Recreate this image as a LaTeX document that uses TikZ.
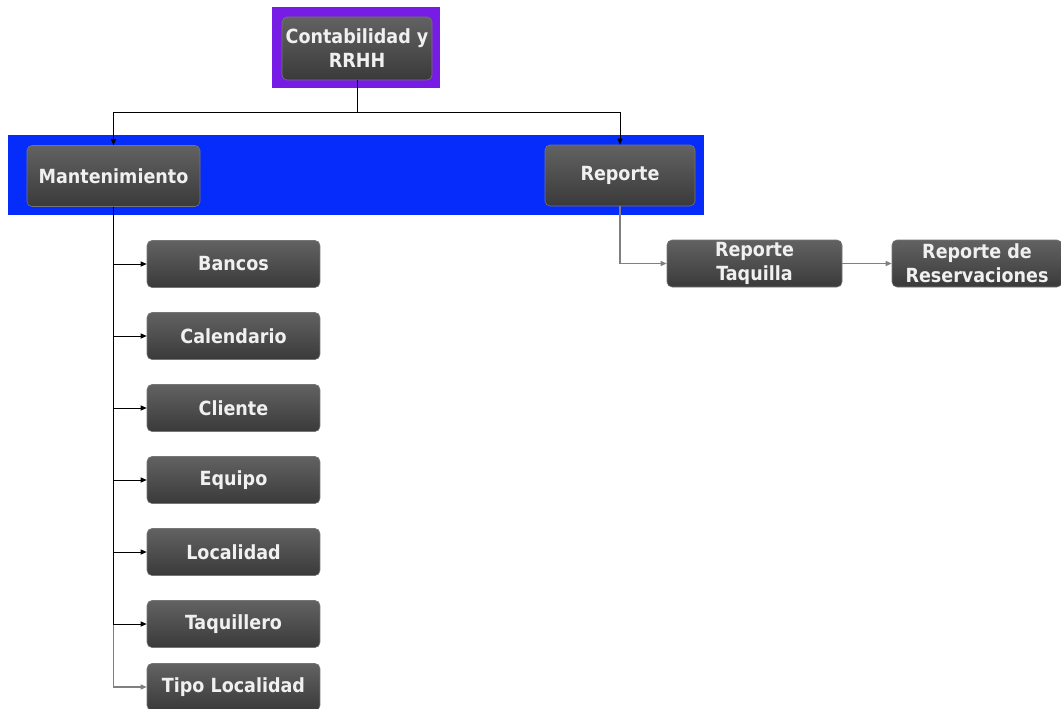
\documentclass[tikz,border=0pt]{standalone}
\usepackage{fontspec}
\setmainfont{DejaVu Sans Condensed}
\usetikzlibrary{arrows.meta}
\definecolor{bandblue}{RGB}{6,44,252}
\definecolor{framepurple}{RGB}{118,28,228}
\definecolor{boxtop}{RGB}{98,98,98}
\definecolor{boxbottom}{RGB}{58,58,58}
\tikzset{
  menubox/.style={rounded corners=5pt, top color=boxtop, bottom color=boxbottom,
    draw=boxbottom!70!white, line width=0.6pt, text=white!94!black,
    font=\fontsize{19.5}{24}\selectfont\bfseries, align=center, inner sep=0pt},
  conn/.style={line width=1pt, -{Triangle[length=6pt,width=5pt]}},
  softconn/.style={conn, draw=gray, line width=1.2pt},
}
\begin{document}
\begin{tikzpicture}[x=1pt,y=-1pt]
% \clip (0,0) rectangle (1061,709);
\useasboundingbox (0,0) rectangle (1061,709);

% Drawing frame and band
\fill [framepurple] (272,7) rectangle (440,88);%
\fill [bandblue] (8,135) rectangle (704,215);%

% Top node
\node [menubox, minimum width=150pt, minimum height=63pt] (conta) at (357,48.5) {Contabilidad y\\RRHH};%

% Second level
\node [menubox, minimum width=173pt, minimum height=61pt] (mant) at (113.5,176) {Mantenimiento};%
\node [menubox, minimum width=150pt, minimum height=61pt] (rep) at (620,175.5) {Reporte};%

% Children of Mantenimiento
\node [menubox, minimum width=173pt, minimum height=47pt] (bancos) at (233.5,264) {Bancos};%
\node [menubox, minimum width=173pt, minimum height=47pt] (calendario) at (233.5,336) {Calendario};%
\node [menubox, minimum width=173pt, minimum height=47pt] (cliente) at (233.5,408) {Cliente};%
\node [menubox, minimum width=173pt, minimum height=47pt] (equipo) at (233.5,480) {Equipo};%
\node [menubox, minimum width=173pt, minimum height=47pt] (localidad) at (233.5,552) {Localidad};%
\node [menubox, minimum width=173pt, minimum height=47pt] (taquillero) at (233.5,624) {Taquillero};%
\node [menubox, minimum width=173pt, minimum height=47pt] (tipoloc) at (233.5,687) {Tipo Localidad};%

% Children of Reporte
\node [menubox, minimum width=175pt, minimum height=47pt] (reptaq) at (754.5,263.5) {Reporte\\Taquilla};%
\node [menubox, minimum width=170pt, minimum height=47pt] (represerv) at (977,263.5) {Reporte de\\Reservaciones};%

% Drawing connectors from top node
\coordinate (split) at (357,112);%
\draw [line width=1pt] (conta.south) -- (split);%
\draw [conn] (split) -| (mant.north);%
\draw [conn] (split) -| (rep.north);%

% Drawing connectors of Mantenimiento
\draw [softconn] (mant.south) |- (tipoloc.west);%
\draw [conn] (mant.south) |- (bancos.west);%
\draw [conn] (mant.south) |- (calendario.west);%
\draw [conn] (mant.south) |- (cliente.west);%
\draw [conn] (mant.south) |- (equipo.west);%
\draw [conn] (mant.south) |- (localidad.west);%
\draw [conn] (mant.south) |- (taquillero.west);%

% Drawing connectors of Reporte
\draw [softconn] (rep.south) |- (reptaq.west);%
\draw [softconn] (reptaq.east) -- (represerv.west);%
\end{tikzpicture}
\end{document}
